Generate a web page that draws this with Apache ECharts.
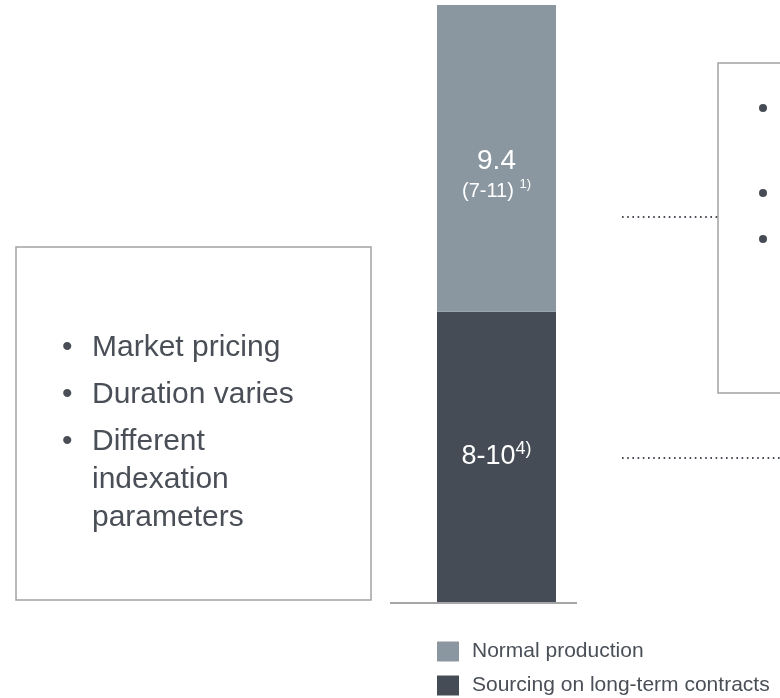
<!DOCTYPE html>
<html>
<head>
<meta charset="utf-8">
<script src="https://cdn.jsdelivr.net/npm/echarts@6/dist/echarts.min.js"></script>
<style>
  html, body { margin: 0; padding: 0; background: #fff; }
  #chart { width: 780px; height: 698px; }
</style>
</head>
<body>
<div id="chart"></div>
<script>
// data
const categories = ['Supply'];
const seriesNames = ['Normal production', 'Sourcing on long-term contracts'];
const normalProduction = [9.4];
const longTermSourcing = [8.9];
const normalLabel = ['9.4', '(7-11) ', '1)'];
const sourcingLabel = ['8-10', '4)'];
const leftNotes = ['Market pricing', 'Duration varies', 'Different\nindexation\nparameters'];
const rightBulletY = [108, 193, 239];

const textColor = '#4a4f57';
const font = 'Liberation Sans, Arial, sans-serif';

const chart = echarts.init(document.getElementById('chart'), null, { renderer: 'canvas' });

// boxes, baseline, leader lines
const noteTops = [329, 376, 423];
const dotted = { stroke: '#464c55', lineWidth: 2.2, lineDash: [1.6, 3.6] };
const graphics = [
  { type: 'rect', shape: { x: 16, y: 247, width: 355, height: 353 },
    style: { fill: 'none', stroke: '#a3a3a3', lineWidth: 1.5 } },
  { type: 'rect', shape: { x: 718, y: 63, width: 80, height: 330 },
    style: { fill: 'none', stroke: '#a3a3a3', lineWidth: 1.5 } },
  { type: 'line', shape: { x1: 390, y1: 603, x2: 577, y2: 603 },
    style: { stroke: '#a6a6a6', lineWidth: 2 } },
  { type: 'line', shape: { x1: 622, y1: 217, x2: 718, y2: 217 }, style: dotted },
  { type: 'line', shape: { x1: 622, y1: 458, x2: 780, y2: 458 }, style: dotted }
];
leftNotes.forEach(function (t, i) {
  graphics.push({ type: 'text', x: 62, y: noteTops[i],
    style: { text: '•', font: '30px ' + font, fill: textColor, verticalAlign: 'top', lineHeight: 38 } });
  graphics.push({ type: 'text', x: 92, y: noteTops[i],
    style: { text: t, font: '30px ' + font, fill: textColor, verticalAlign: 'top', lineHeight: 38 } });
});
rightBulletY.forEach(function (y) {
  graphics.push({ type: 'circle', shape: { cx: 763, cy: y, r: 4 }, style: { fill: '#464c55' } });
});

const legendBase = {
  left: 437,
  padding: 0,
  itemWidth: 22,
  itemHeight: 20,
  icon: 'rect',
  textStyle: { fontSize: 21, color: textColor, fontFamily: font, padding: [0, 0, 0, 8] }
};

const option = {
  animation: false,
  color: ['#464c55', '#8a97a0'],
  legend: [
    Object.assign({}, legendBase, { top: 641, data: [seriesNames[0]] }),
    Object.assign({}, legendBase, { top: 675, data: [seriesNames[1]] })
  ],
  grid: { left: 437, width: 119, top: 5, bottom: 96 },
  xAxis: { type: 'category', data: categories, show: false },
  yAxis: { type: 'value', min: 0, max: normalProduction[0] + longTermSourcing[0], show: false },
  series: [
    {
      name: seriesNames[1], type: 'bar', stack: 'total', barWidth: '100%',
      data: longTermSourcing,
      label: {
        show: true, position: 'inside', offset: [0, 0],
        formatter: '{v|' + sourcingLabel[0] + '}{s|' + sourcingLabel[1] + '}',
        rich: {
          v: { fontSize: 27, color: '#fff', fontFamily: font, lineHeight: 34 },
          s: { fontSize: 18, color: '#fff', fontFamily: font, lineHeight: 34, verticalAlign: 'top' }
        }
      }
    },
    {
      name: seriesNames[0], type: 'bar', stack: 'total', barWidth: '100%',
      data: normalProduction,
      label: {
        show: true, position: 'inside', offset: [0, 16],
        formatter: '{v|' + normalLabel[0] + '}\n{r|' + normalLabel[1] + '}{s|' + normalLabel[2] + '}',
        rich: {
          v: { fontSize: 28, color: '#fff', fontFamily: font, lineHeight: 34 },
          r: { fontSize: 20, color: '#fff', fontFamily: font, lineHeight: 26 },
          s: { fontSize: 13, color: '#fff', fontFamily: font, lineHeight: 26, verticalAlign: 'top' }
        }
      }
    }
  ],
  graphic: graphics
};
chart.setOption(option);
</script>
</body>
</html>
